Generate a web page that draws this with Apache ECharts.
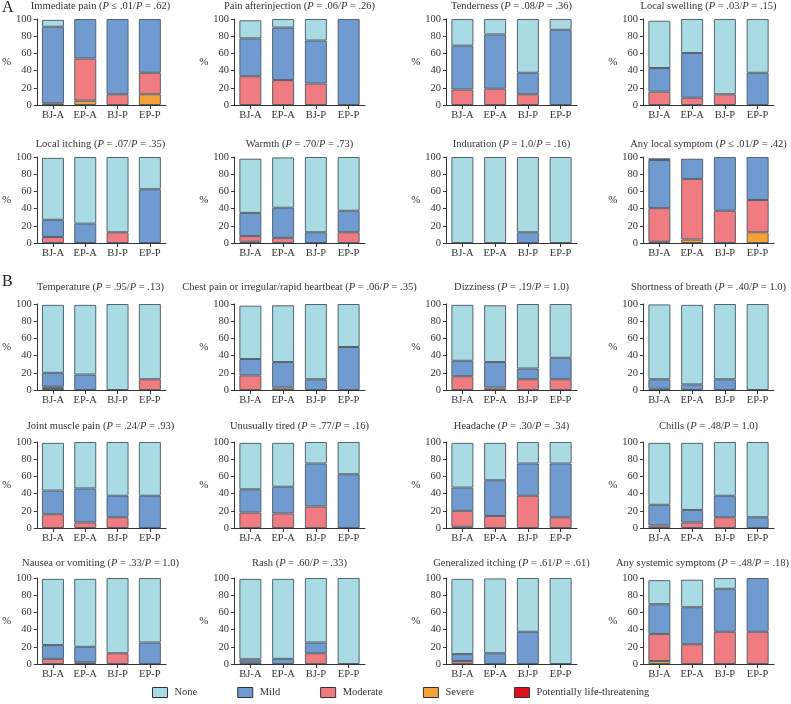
<!DOCTYPE html>
<html>
<head>
<meta charset="utf-8">
<script src="https://cdn.jsdelivr.net/npm/echarts@6/dist/echarts.min.js"></script>
<style>html,body{margin:0;padding:0;background:#fff;}#c{width:791px;height:704px;}</style>
</head>
<body>
<div id="c"></div>
<script>
// ---- DATA ----
const categories = ['BJ-A', 'EP-A', 'BJ-P', 'EP-P'];
const panelNames = ['Immediate pain', 'Pain afterinjection', 'Tenderness', 'Local swelling',
  'Local itching', 'Warmth', 'Induration', 'Any local symptom',
  'Temperature', 'Chest pain or irregular/rapid heartbeat', 'Dizziness', 'Shortness of breath',
  'Joint muscle pain', 'Unusually tired', 'Headache', 'Chills',
  'Nausea or vomiting', 'Rash', 'Generalized itching', 'Any systemic symptom'];
const pFirst = ['≤ .01', '= .06', '= .08', '= .03', '= .07', '= .70', '= 1.0', '≤ .01',
  '= .95', '= .06', '= .19', '= .40', '= .24', '= .77', '= .30', '= .48',
  '= .33', '= .60', '= .61', '= .48'];
const pSecond = ['= .62', '= .26', '= .36', '= .15', '= .35', '= .73', '= .16', '= .42',
  '= .13', '= .35', '= 1.0', '= 1.0', '= .93', '= .16', '= .34', '= 1.0',
  '= 1.0', '= .33', '= .61', '= .18'];
const levelNames = ['None', 'Mild', 'Moderate', 'Severe', 'Potentially life-threatening'];

// values per panel, order BJ-A, EP-A, BJ-P, EP-P (percent)
const lifeThreatening = [
  [0,0,0,0],[0,0,0,0],[0,0,0,0],[0,0,0,0],
  [0,0,0,0],[0,0,0,0],[0,0,0,0],[0,0,0,0],
  [1.5,0,0,0],[0,0,0,0],[0,0,0,0],[0,0,0,0],
  [0,0,0,0],[0,0,0,0],[0,0,0,0],[0,0,0,0],
  [0,0,0,0],[0,0,0,0],[0,0,0,0],[0,0,0,0]];
const severe = [
  [0,5,0,12.5],[0,0,0,0],[0,0,0,0],[0,0,0,0],
  [0,0,0,0],[1.5,0,0,0],[0,0,0,0],[1.5,4,0,12.5],
  [1,0,0,0],[0,0,0,0],[0,0,0,0],[1.5,0,0,0],
  [0,0,0,0],[0,0,0,0],[1.5,0,0,0],[0,0,0,0],
  [0,0,0,0],[0,0,0,0],[0,0,0,0],[3.5,0,0,0]];
const moderate = [
  [2,49,12.5,25],[33.5,29,25,0],[18,19,12.5,0],[15.5,8.5,12.5,0],
  [7,0,12.5,0],[6.5,6,0,12.5],[0,0,0,0],[39,70.5,37.5,37.5],
  [1.5,0,0,12.5],[17,3,0,0],[16,3,12.5,12.5],[0,0,0,0],
  [16,6.5,12.5,0],[18,17,25,0],[18.5,14,37.5,12.5],[3,6.5,12.5,0],
  [6,2,12.5,0],[2,0,12.5,0],[3.5,0,0,0],[31.5,23,37.5,37.5]];
const mild = [
  [89,46,87.5,62.5],[44,61,50,100],[51,63,25,87.5],[27.5,52,0,37.5],
  [20,22.5,0,62.5],[27,35,12.5,25],[0,0,12.5,0],[56,23.5,62.5,50],
  [16,18,0,0],[19,29.5,12.5,50],[18,29.5,12.5,25],[11,6.5,12.5,0],
  [27.5,39.5,25,37.5],[27,31,50,62.5],[27,41.5,37.5,62.5],[24,14.5,25,12.5],
  [16,18,0,25],[3.5,6,12.5,0],[8,12.5,37.5,0],[34.5,43,50,62.5]];
const none = [
  [8,0,0,0],[21,10,25,0],[31,18,62.5,12.5],[55,39.5,87.5,62.5],
  [72,77.5,87.5,37.5],[63,58.5,87.5,62.5],[100,100,87.5,100],[2,0,0,0],
  [79,81,100,87.5],[62,66,87.5,50],[65,66,75,62.5],[87,92.5,87.5,100],
  [55.5,54,62.5,62.5],[54,51,25,37.5],[52,43.5,25,25],[72,78,62.5,87.5],
  [77,79,87.5,75],[93.5,93,75,100],[87.5,87,62.5,100],[28,32,12.5,0]];
const yTicks = [0, 20, 40, 60, 80, 100];

// ---- LAYOUT / STYLE ----
const FONT = 'Liberation Serif';
const TITLE_FS = 10.5;
const colors = {
  'None': '#A9DBE5',
  'Mild': '#6F9BD0',
  'Moderate': '#F07B80',
  'Severe': '#F5A23A',
  'Potentially life-threatening': '#E0101C'
};
const COL_LEFT = [35, 234, 446, 643];
const ROW_TOP = [19, 157, 304, 442, 578];
const TITLE_Y = [6, 144, 287, 426, 563];
const W = 131, H = 86;
const CHART_W = 791;

const measureCtx = document.createElement('canvas').getContext('2d');
function measure(parts) {
  let w = 0;
  parts.forEach(([txt, italic]) => {
    measureCtx.font = (italic ? 'italic ' : '') + TITLE_FS + 'px "' + FONT + '"';
    w += measureCtx.measureText(txt).width;
  });
  return w;
}

const grids = [], xAxes = [], yAxes = [], titles = [], series = [];
const levelData = [
  ['Potentially life-threatening', lifeThreatening],
  ['Severe', severe],
  ['Moderate', moderate],
  ['Mild', mild],
  ['None', none]
];

panelNames.forEach((name, i) => {
  const col = i % 4, row = Math.floor(i / 4);
  grids.push({left: COL_LEFT[col], top: ROW_TOP[row], width: W, height: H, containLabel: false});
  xAxes.push({
    type: 'category', gridIndex: i, data: categories,
    axisLine: {lineStyle: {color: '#333', width: 1}},
    axisTick: {show: true, alignWithLabel: true, length: 4, lineStyle: {color: '#333'}},
    axisLabel: {fontFamily: FONT, fontSize: 10.5, color: '#333', margin: 5},
    splitLine: {show: false}
  });
  yAxes.push({
    type: 'value', gridIndex: i, min: 0, max: 100, interval: 20,
    name: '%', nameLocation: 'middle', nameGap: 22, nameRotate: 0,
    nameTextStyle: {fontFamily: FONT, fontSize: 11, color: '#333'},
    axisLine: {show: true, lineStyle: {color: '#333', width: 1}},
    axisTick: {show: true, length: 3, lineStyle: {color: '#333'}},
    axisLabel: {fontFamily: FONT, fontSize: 10.5, color: '#333', margin: 5,
      formatter: v => yTicks.includes(v) ? String(v) : ''},
    splitLine: {show: false}
  });
  const parts = [[name + ' (', false], ['P', true], [' ' + pFirst[i] + '/', false], ['P', true], [' ' + pSecond[i] + ')', false]];
  const tw = measure(parts);
  let cx = COL_LEFT[col] + W / 2;
  if (cx + tw / 2 > CHART_W - 2) cx = CHART_W - 2 - tw / 2;
  titles.push({
    text: '{n|' + name + ' (}{i|P}{n| ' + pFirst[i] + '/}{i|P}{n| ' + pSecond[i] + ')}',
    left: cx, top: TITLE_Y[row] - 7, textAlign: 'center', padding: 0,
    textStyle: {
      fontWeight: 'normal',
      rich: {
        n: {fontFamily: FONT, fontSize: TITLE_FS, fontWeight: 'normal', color: '#333', lineHeight: 14},
        i: {fontFamily: FONT, fontSize: TITLE_FS, fontWeight: 'normal', fontStyle: 'italic', color: '#333', lineHeight: 14}
      }
    }
  });
  levelData.forEach(([lvl, arr]) => {
    series.push({
      type: 'bar', name: lvl, xAxisIndex: i, yAxisIndex: i, stack: 'p' + i,
      barWidth: 22,
      data: arr[i].map(v => v === 0 ? '-' : v),
      itemStyle: {color: colors[lvl], borderColor: '#56626c', borderWidth: 1},
      emphasis: {disabled: true},
      animation: false
    });
  });
});

const chart = echarts.init(document.getElementById('c'), null, {renderer: 'canvas'});
chart.setOption({
  animation: false,
  backgroundColor: '#fff',
  title: titles,
  grid: grids,
  xAxis: xAxes,
  yAxis: yAxes,
  series: series,
  legend: {
    data: levelNames, left: 147, top: 682, orient: 'horizontal',
    itemWidth: 15, itemHeight: 10, itemGap: 40, icon: 'rect',
    textStyle: {fontFamily: FONT, fontSize: 10.5, color: '#333', padding: [0, 0, 0, 2]},
    itemStyle: {borderColor: '#333', borderWidth: 1},
    selectedMode: false
  },
  graphic: [
    {type: 'text', left: 2, top: 0, style: {text: 'A', fontFamily: FONT, fontSize: 16, fill: '#222'}},
    {type: 'text', left: 2, top: 274, style: {text: 'B', fontFamily: FONT, fontSize: 16, fill: '#222'}}
  ]
});
</script>
</body>
</html>
